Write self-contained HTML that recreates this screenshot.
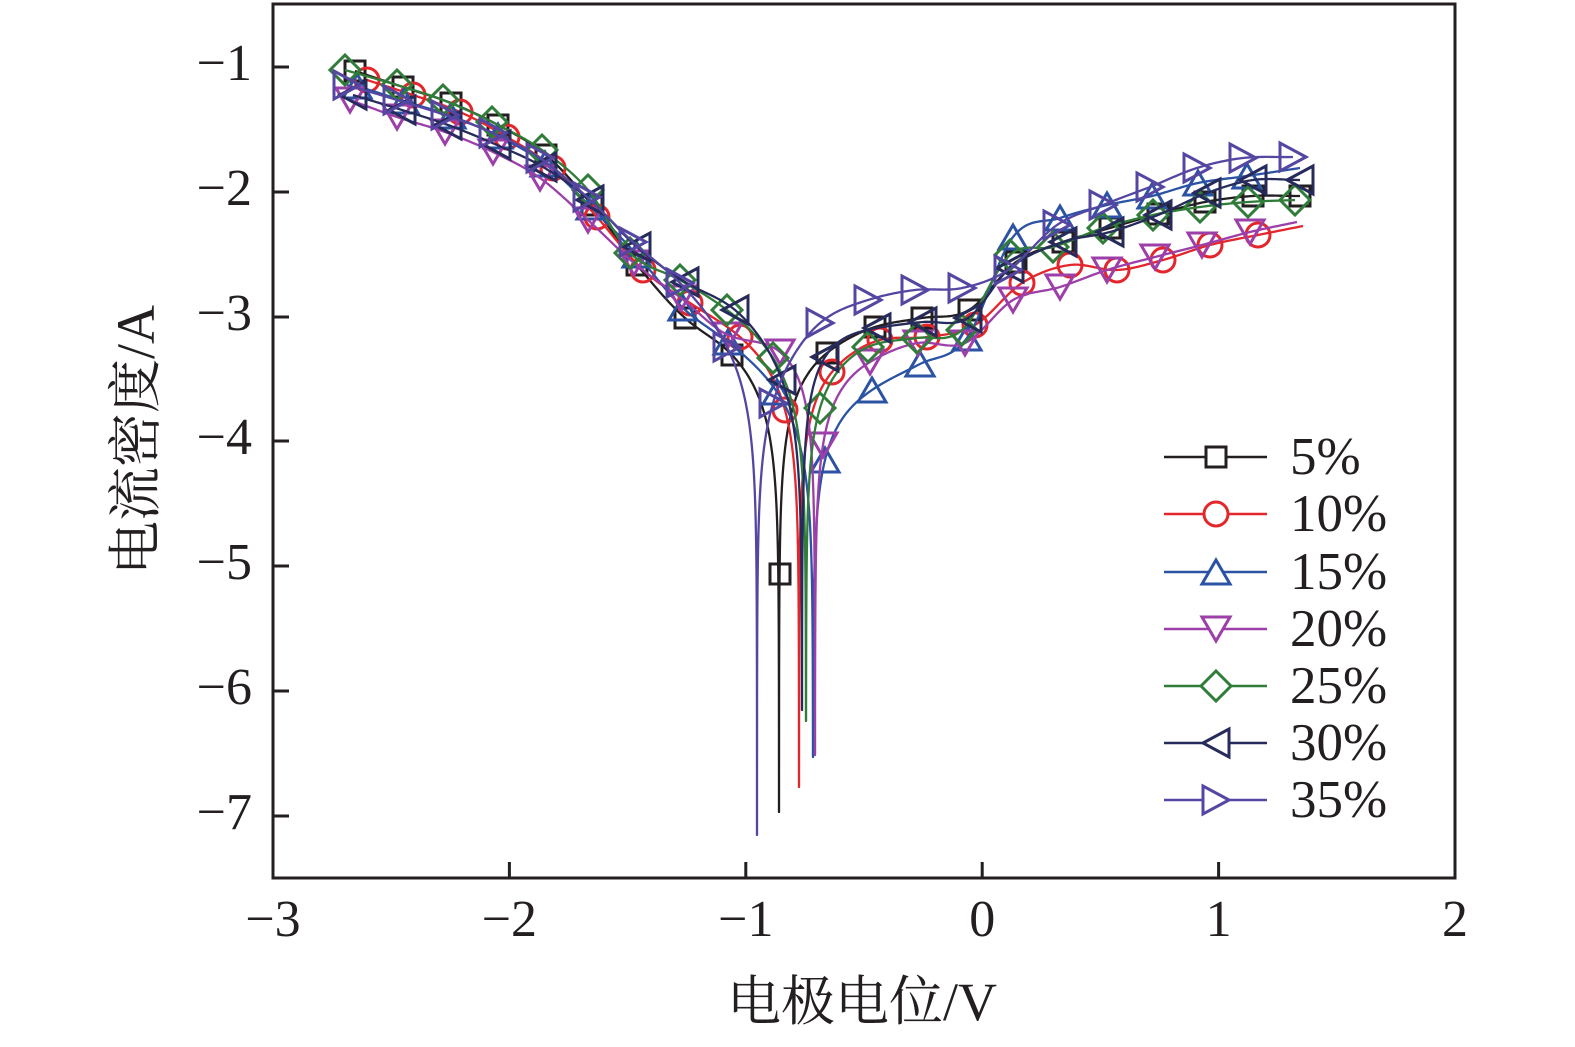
<!DOCTYPE html>
<html><head><meta charset="utf-8">
<style>
html,body{margin:0;padding:0;background:#fff;}
svg{display:block;}
text{font-family:"Liberation Serif","Noto Serif CJK SC",serif;fill:#231f20;}
</style></head>
<body>
<svg id="c" width="1575" height="1047" viewBox="0 0 1575 1047" xmlns="http://www.w3.org/2000/svg">
<rect width="1575" height="1047" fill="#fff"/>
<g id="data"></g>
<rect x="273" y="4" width="1182" height="874" fill="none" stroke="#231f20" stroke-width="3"/>
<g stroke="#231f20" stroke-width="3">
<line x1="273" y1="67" x2="289" y2="67"/>
<line x1="273" y1="192" x2="289" y2="192"/>
<line x1="273" y1="317" x2="289" y2="317"/>
<line x1="273" y1="441" x2="289" y2="441"/>
<line x1="273" y1="566" x2="289" y2="566"/>
<line x1="273" y1="691" x2="289" y2="691"/>
<line x1="273" y1="816" x2="289" y2="816"/>
<line x1="509.4" y1="878" x2="509.4" y2="862"/>
<line x1="745.8" y1="878" x2="745.8" y2="862"/>
<line x1="982.2" y1="878" x2="982.2" y2="862"/>
<line x1="1218.6" y1="878" x2="1218.6" y2="862"/>
</g>
<g font-size="52" text-anchor="end">
<text x="252" y="80">−1</text>
<text x="252" y="205">−2</text>
<text x="252" y="330">−3</text>
<text x="252" y="454">−4</text>
<text x="252" y="579">−5</text>
<text x="252" y="704">−6</text>
<text x="252" y="829">−7</text>
</g>
<g font-size="52" text-anchor="middle">
<text x="273" y="936">−3</text>
<text x="509.4" y="936">−2</text>
<text x="745.8" y="936">−1</text>
<text x="982.2" y="936">0</text>
<text x="1218.6" y="936">1</text>
<text x="1455" y="936">2</text>
</g>
<text x="862" y="1020" font-size="54" text-anchor="middle">电极电位/V</text>
<text transform="translate(154,440) rotate(-90)" font-size="54" text-anchor="middle">电流密度/A</text>
<g id="legend"></g>
</svg>
<script>
(function(){
var NS="http://www.w3.org/2000/svg";
var YS=124.7;
function drop(d,w){ if(d<=0) return 1e9; var v=1-Math.exp(-d/w); return -YS*Math.log10(v); }
function herm(pts){
  var n=pts.length, m=[];
  for(var i=0;i<n;i++){
    if(i==0) m.push((pts[1][1]-pts[0][1])/(pts[1][0]-pts[0][0]));
    else if(i==n-1) m.push((pts[n-1][1]-pts[n-2][1])/(pts[n-1][0]-pts[n-2][0]));
    else m.push((pts[i+1][1]-pts[i-1][1])/(pts[i+1][0]-pts[i-1][0]));
  }
  return function(x){
    if(x<=pts[0][0]) return pts[0][1]+m[0]*(x-pts[0][0]);
    if(x>=pts[n-1][0]) return pts[n-1][1]+m[n-1]*(x-pts[n-1][0]);
    var i=0; while(x>pts[i+1][0]) i++;
    var h=pts[i+1][0]-pts[i][0], t=(x-pts[i][0])/h, t2=t*t, t3=t2*t;
    return (2*t3-3*t2+1)*pts[i][1]+(t3-2*t2+t)*h*m[i]+(-2*t3+3*t2)*pts[i+1][1]+(t3-t2)*h*m[i+1];
  };
}
function marker(type,cx,cy,color,fill){
  var el;
  if(type=="sq"){ el=document.createElementNS(NS,"rect"); el.setAttribute("x",cx-10); el.setAttribute("y",cy-10); el.setAttribute("width",20); el.setAttribute("height",20); }
  else if(type=="ci"){ el=document.createElementNS(NS,"circle"); el.setAttribute("cx",cx); el.setAttribute("cy",cy); el.setAttribute("r",12); }
  else {
    var p;
    if(type=="up") p=[[cx,cy-12],[cx-14,cy+12],[cx+14,cy+12]];
    else if(type=="dn") p=[[cx-14,cy-12],[cx+14,cy-12],[cx,cy+12]];
    else if(type=="di") p=[[cx,cy-15],[cx+15,cy],[cx,cy+15],[cx-15,cy]];
    else if(type=="lt") p=[[cx-13,cy],[cx+13,cy-14],[cx+13,cy+14]];
    else p=[[cx+13,cy],[cx-13,cy-14],[cx-13,cy+14]];
    el=document.createElementNS(NS,"polygon");
    el.setAttribute("points",p.map(function(q){return q[0].toFixed(1)+","+q[1].toFixed(1);}).join(" "));
  }
  el.setAttribute("fill",fill||"none"); el.setAttribute("stroke",color); el.setAttribute("stroke-width","3");
  el.setAttribute("stroke-linejoin","miter");
  return el;
}
var S=[
 {c:"#231f20",m:"sq",xs:779,yb:812,
  cath:[[355,71],[403,87],[451,103],[498,125],[546,155],[592,205],[637,265],[685,318],[732,355]],
  extra:[[780,574]],
  anod:[[827,353],[875,327],[922,318],[969,310],[1016,262],[1063,242],[1110,228],[1158,214],[1205,202],[1253,196],[1300,196]]},
 {c:"#e3262b",m:"ci",xs:799,yb:787,
  cath:[[367,80],[413,95],[460,112],[507,137],[553,168],[597,217],[643,270],[690,303],[740,337],[785,410]],
  anod:[[832,372],[880,340],[927,337],[975,325],[1022,283],[1070,265],[1117,270],[1163,260],[1210,245],[1258,235]],
  end:[1303,226]},
 {c:"#2b52a3",m:"up",xs:813,yb:757,
  cath:[[357,86],[404,101],[451,116],[498,136],[545,164],[591,207],[637,255],[683,308],[728,342],[777,392]],
  anod:[[825,460],[872,390],[920,364],[967,338],[1013,237],[1060,218],[1107,205],[1152,196],[1198,183],[1247,176]],
  end:[1300,168]},
 {c:"#9c3fa9",m:"dn",xs:815,yb:755,
  cath:[[350,100],[397,117],[445,132],[493,152],[540,178],[588,220],[634,263],[681,298],[728,335],[780,352]],
  anod:[[823,445],[870,362],[918,343],[965,343],[1013,300],[1060,287],[1107,270],[1155,257],[1202,245],[1250,232]],
  end:[1297,222]},
 {c:"#2f7d38",m:"di",xs:806,yb:721,
  cath:[[345,70],[397,85],[443,100],[492,122],[542,150],[588,190],[630,253],[680,280],[727,310],[773,358]],
  anod:[[820,408],[868,347],[917,338],[962,330],[1010,255],[1053,247],[1103,228],[1153,215],[1200,207],[1248,202],[1295,200]]},
 {c:"#262b5b",m:"lt",xs:802,yb:710,
  cath:[[353,95],[402,110],[448,125],[497,145],[543,167],[590,200],[637,247],[685,282],[735,310],[782,380]],
  anod:[[825,357],[877,328],[923,322],[968,318],[1010,268],[1063,242],[1110,232],[1158,215],[1207,193],[1253,180],[1300,180]]},
 {c:"#5546a2",m:"rt",xs:757,yb:835,
  cath:[[347,85],[397,100],[445,115],[493,133],[540,158],[587,197],[633,242],[680,283],[727,347]],
  anod:[[773,403],[820,323],[868,300],[915,290],[962,288],[1008,270],[1057,225],[1103,205],[1150,187],[1197,168],[1243,158],[1293,157]]}
];
var g=document.getElementById("data");
S.forEach(function(s){
  var w=35, xs=s.xs, yb=s.yb;
  var envC=s.cath.map(function(p){return [p[0],p[1]-drop(xs-p[0],w)];});
  var a=envC[envC.length-2], b=envC[envC.length-1];
  var sl=(b[1]-a[1])/(b[0]-a[0]);
  envC.push([xs,b[1]+sl*(xs-b[0])]);
  var an=s.anod.slice(); if(s.end) an.push(s.end);
  var envA=an.map(function(p){return [p[0],p[1]-drop(p[0]-xs,w)];});
  var a2=envA[0], b2=envA[1];
  var sl2=(b2[1]-a2[1])/(b2[0]-a2[0]);
  envA.unshift([xs,a2[1]-sl2*(a2[0]-xs)]);
  var fC=herm(envC), fA=herm(envA);
  var path=[], x;
  var x0=s.cath[0][0];
  for(x=x0;x<xs-30;x+=2) path.push([x,fC(x)+drop(xs-x,w)]);
  for(var k=0;k<=90;k++){
    var d=30*Math.pow(10,-k/16);
    var y=fC(xs-d)+drop(d,w);
    if(y>=yb){path.push([xs-d,yb]);break;}
    path.push([xs-d,y]);
  }
  var started=false;
  for(var k2=90;k2>=0;k2--){
    var d2=30*Math.pow(10,-k2/16);
    var y2=fA(xs+d2)+drop(d2,w);
    if(y2>=yb) continue;
    if(!started){path.push([xs+d2,yb]);started=true;}
    path.push([xs+d2,y2]);
  }
  var xe=an[an.length-1][0];
  for(x=xs+32;x<xe;x+=2) path.push([x,fA(x)+drop(x-xs,w)]);
  path.push([xe,an[an.length-1][1]]);
  var pl=document.createElementNS(NS,"polyline");
  pl.setAttribute("points",path.map(function(p){return p[0].toFixed(2)+","+p[1].toFixed(2);}).join(" "));
  pl.setAttribute("fill","none"); pl.setAttribute("stroke",s.c); pl.setAttribute("stroke-width","2.3");
  pl.setAttribute("stroke-linejoin","round");
  g.appendChild(pl);
  var mk=s.cath.concat(s.extra||[]).concat(s.anod);
  mk.forEach(function(p){ g.appendChild(marker(s.m,p[0],p[1],s.c)); });
});
var lg=document.getElementById("legend");
var labels=["5%","10%","15%","20%","25%","30%","35%"];
var ry=[457,514,572,629,686,743,800];
S.forEach(function(s,i){
  var y=ry[i];
  var ln=document.createElementNS(NS,"line");
  ln.setAttribute("x1",1164); ln.setAttribute("x2",1267); ln.setAttribute("y1",y); ln.setAttribute("y2",y);
  ln.setAttribute("stroke",s.c); ln.setAttribute("stroke-width","2.5");
  lg.appendChild(ln);
  lg.appendChild(marker(s.m,1216,y,s.c,"#fff"));
  var t=document.createElementNS(NS,"text");
  t.setAttribute("x",1290); t.setAttribute("y",y+17); t.setAttribute("font-size","53");
  t.textContent=labels[i];
  lg.appendChild(t);
});
})();
</script>
</body></html>
